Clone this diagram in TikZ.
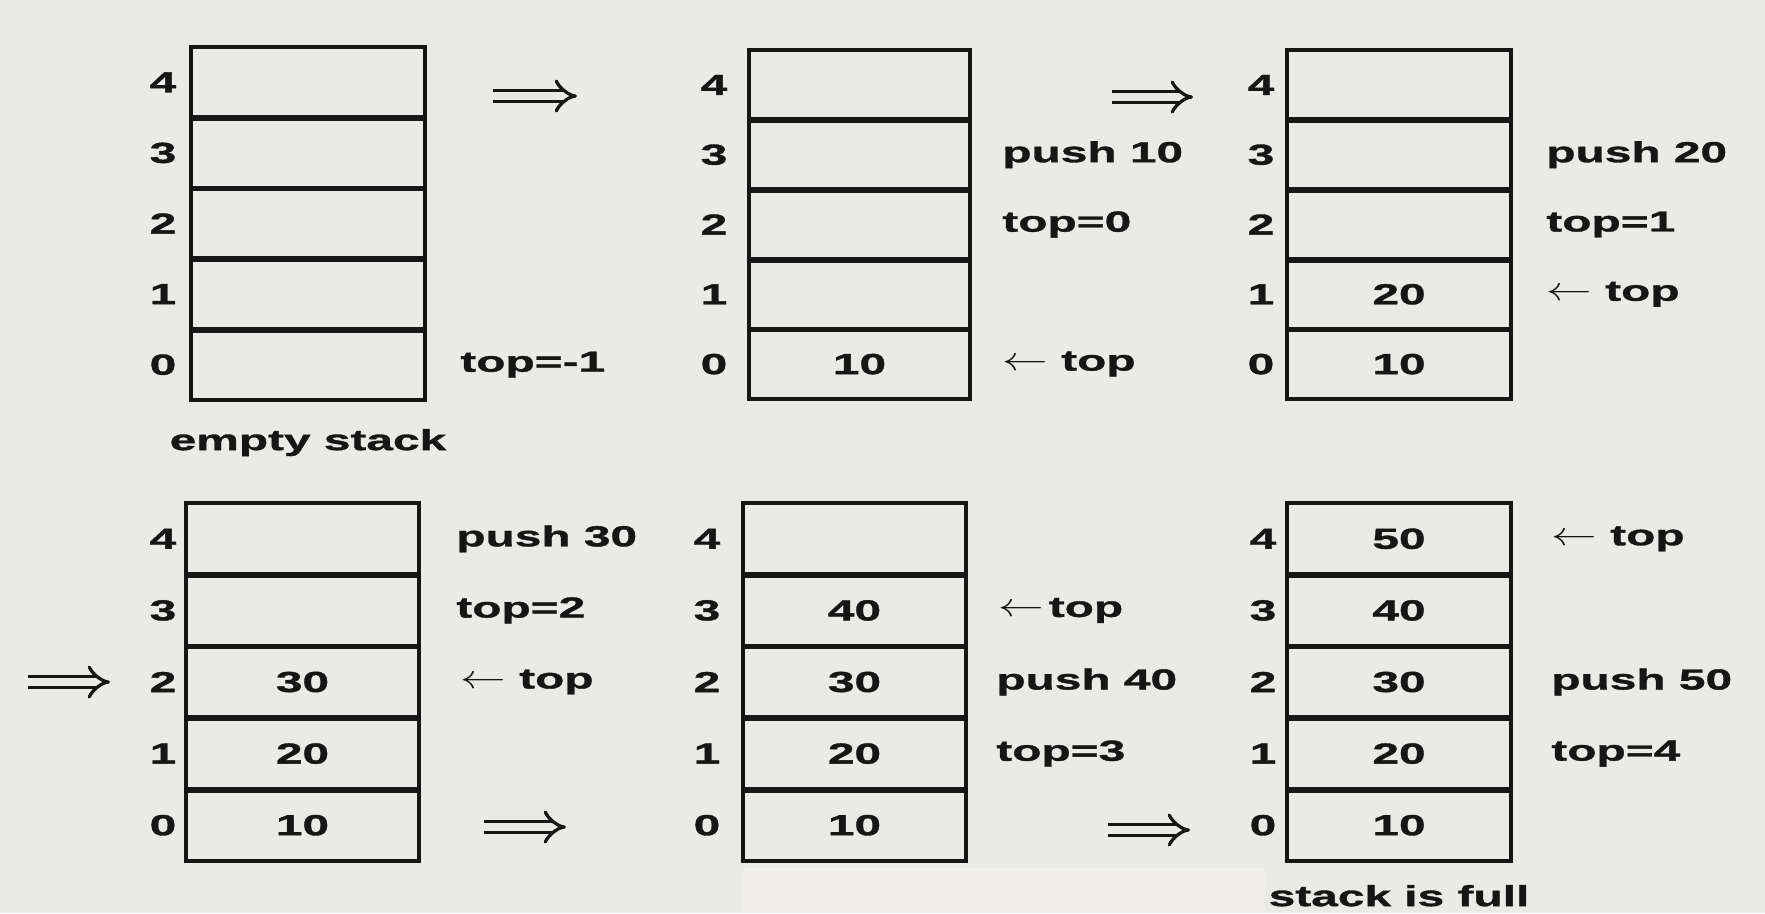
\documentclass[tikz,border=0pt]{standalone}
\usepackage{fontspec}
\usepackage{graphicx}
\newfontfamily\lbl[FakeStretch=1.65,FakeBold=1.2]{Liberation Sans}
\usetikzlibrary{arrows.meta,positioning}
\definecolor{paper}{RGB}{234,235,230}
\definecolor{patch}{RGB}{241,239,234}
\definecolor{ink}{RGB}{22,22,22}
\newcommand{\lptr}{\scalebox{1.5}[1.1]{$\leftarrow$}}

\begin{document}
\begin{tikzpicture}[
    x=0.2mm, y=-0.2mm,
    font=\lbl\bfseries\fontsize{16.5}{19}\selectfont,
    text=ink,
    cell/.style={rectangle, inner sep=0pt},
    idx/.style={inner sep=0pt},
    note/.style={anchor=west, inner sep=0pt},
    frame/.style={draw=ink, line width=2.4pt},
    sep/.style={draw=ink, line width=3.2pt},
    stepto/.style={draw=ink, line width=0.65mm, double=paper, double distance=1.6mm,
      -{Implies[length=3mm, width=6mm]}}
  ]
    \fill[paper] (0,0) rectangle (1765,913);
    \fill[patch] (743,868) rectangle (1265,913);
    % the six stacks, rows 0..4 from the bottom
    \foreach \s/\xl/\xr/\yt/\rh/\xi in {1/191/425/47/70.6/163, 2/749/970/50/69.8/714,
        3/1287/1511/50/69.8/1261, 4/186/419/503/71.6/163, 5/743/966/503/71.6/707,
        6/1287/1511/503/71.6/1263} {
      \foreach \r in {0,...,4} {
        \node[cell, minimum width={(\xr-\xl)*0.2mm}, minimum height={\rh*0.2mm}]
          (s\s c\r) at ({(\xl+\xr)/2}, {\yt+\rh*(4.5-\r)}) {};
        \node[idx] (s\s i\r) at (\xi, {\yt+\rh*(4.5-\r)}) {\r};
      }
      \draw[frame] (s\s c0.south west) rectangle (s\s c4.north east);
      \foreach \r in {1,...,4}
        \draw[sep] (s\s c\r.south west) -- (s\s c\r.south east);
    }
    \foreach \s/\vals in {2/{10}, 3/{10,20}, 4/{10,20,30}, 5/{10,20,30,40},
        6/{10,20,30,40,50}} {
      \foreach \v [count=\r from 0] in \vals
        \node (s\s v\r) at (s\s c\r) {\v};
    }
    % notes beside the stacks
    \node[note] (topm1) at (460,0 |- s1c0) {top=-1};
    \node[below=4.5mm of s1c0] (empty) {empty stack};
    \node[note] (push10) at (1002,0 |- s2c3) {push 10};
    \node[note] (topeq0) at (1002,0 |- s2c2) {top=0};
    \node[note] (ptr2) at (1002,0 |- s2c0) {\lptr{} top};
    \node[note] (push20) at (1546,0 |- s3c3) {push 20};
    \node[note] (topeq1) at (1546,0 |- s3c2) {top=1};
    \node[note] (ptr3) at (1546,0 |- s3c1) {\lptr{} top};
    \node[note] (push30) at (456,0 |- s4c4) {push 30};
    \node[note] (topeq2) at (456,0 |- s4c3) {top=2};
    \node[note] (ptr4) at (460,0 |- s4c2) {\lptr{} top};
    \node[note] (ptr5) at (998,0 |- s5c3) {\lptr\,top};
    \node[note] (push40) at (996,0 |- s5c2) {push 40};
    \node[note] (topeq3) at (996,0 |- s5c1) {top=3};
    \node[note] (ptr6) at (1551,0 |- s6c4) {\lptr{} top};
    \node[note] (push50) at (1551,0 |- s6c2) {push 50};
    \node[note] (topeq4) at (1551,0 |- s6c1) {top=4};
    \node[below=3.5mm of s6c0] (full) {stack is full};
    % step arrows
    \coordinate (go1a) at (493,96);   \coordinate (go1b) at (577,96);
    \coordinate (go2a) at (1112,97);  \coordinate (go2b) at (1193,97);
    \coordinate (go3a) at (28,0 |- s4c2); \coordinate (go3b) at (110,0 |- s4c2);
    \coordinate (go4a) at (484,827);  \coordinate (go4b) at (566,827);
    \coordinate (go5a) at (1108,830); \coordinate (go5b) at (1190,830);
    \foreach \g in {1,...,5}
      \draw[stepto] (go\g a) -- (go\g b);
  \end{tikzpicture}
\end{document}
